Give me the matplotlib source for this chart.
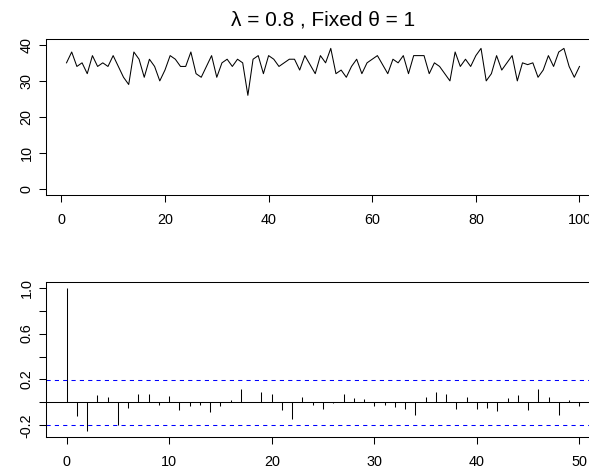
import numpy as np
import matplotlib
matplotlib.use("Agg")
import matplotlib.pyplot as plt

plt.rcParams['font.family'] = ['Liberation Sans', 'DejaVu Sans']
plt.rcParams['axes.unicode_minus'] = False

# serie simulada
serie = [35, 38, 34, 35, 32, 37, 34, 35, 34, 37,
         34, 31, 29, 38, 36, 31, 36, 34, 30, 33,
         37, 36, 34, 34, 38, 32, 31, 34, 37, 31,
         35, 36, 34, 36, 35, 26, 36, 37, 32, 37,
         36, 34, 35, 36, 36, 33, 37, 34.5, 32, 37,
         35, 39, 32, 33, 31, 34, 36, 32, 35, 36,
         37, 34.5, 32, 36, 35, 37, 32, 37, 37, 37,
         32, 35, 34, 32, 30, 38, 34, 36, 34, 37,
         39, 30, 32, 37, 33, 35, 37, 30, 35, 34.5,
         35, 31, 33, 37, 34, 38, 39, 34, 31, 34]

# autocorrelaciones, lags 0..50
acf = [1.0, -0.122, -0.252, 0.067, 0.045, -0.194, -0.05, 0.073, 0.073, -0.026,
       0.052, -0.064, -0.035, -0.026, -0.087, -0.035, 0.023, 0.119, 0.004, 0.093,
       0.075, -0.07, -0.145, 0.047, -0.023, -0.058, -0.006, 0.07, 0.035, 0.029,
       -0.035, -0.02, -0.044, -0.055, -0.11, 0.047, 0.09, 0.075, -0.058, 0.05,
       -0.058, -0.046, -0.078, 0.035, 0.064, -0.07, 0.113, 0.045, -0.11, 0.023,
       -0.029]
ci = 1.96 / np.sqrt(len(serie))

tiempo = np.arange(1, len(serie) + 1)
lags = np.arange(len(acf))

fig = plt.figure(figsize=(5.89, 4.73), dpi=100)
lw = 0.75

def estilo(ax):
    for s in ax.spines.values():
        s.set_linewidth(lw)
        s.set_color('black')
    ax.tick_params(direction='out', length=5, width=lw, labelsize=10.4,
                   colors='black')
    ax.tick_params(axis='x', pad=8)
    ax.tick_params(axis='y', pad=4, labelrotation=90)
    for t in ax.get_yticklabels():
        t.set_va('center')

# panel superior: serie de tiempo
ax1 = fig.add_axes([46/589, 1 - 195/473, 554/589, 156/473])
ax1.plot(tiempo, serie, color='black', lw=lw)
ax1.set_xlim(-2.96, 103.96)
ax1.set_ylim(-1.6, 41.6)
ax1.set_xticks(np.arange(0, 101, 20))
ax1.set_yticks(np.arange(0, 41, 10))
estilo(ax1)
ax1.set_title('λ = 0.8 , Fixed θ = 1', fontsize=15, pad=10)

# panel inferior: ACF
ax2 = fig.add_axes([46/589, 1 - 437/473, 554/589, 155/473])
ax2.vlines(lags, 0, acf, color='black', lw=lw)
ax2.axhline(0, color='black', lw=lw)
ax2.axhline(ci, color='blue', lw=lw, linestyle=(0, (4, 4)))
ax2.axhline(-ci, color='blue', lw=lw, linestyle=(0, (4, 4)))
ax2.set_xlim(-2, 52)
ax2.set_ylim(-0.302, 1.05)
ax2.set_xticks(np.arange(0, 51, 10))
yt = [-0.2, 0.0, 0.2, 0.4, 0.6, 0.8, 1.0]
ax2.set_yticks(yt)
ax2.set_yticklabels(['-0.2', '', '0.2', '', '0.6', '', '1.0'])
estilo(ax2)

fig.savefig('out.png', dpi=100)
